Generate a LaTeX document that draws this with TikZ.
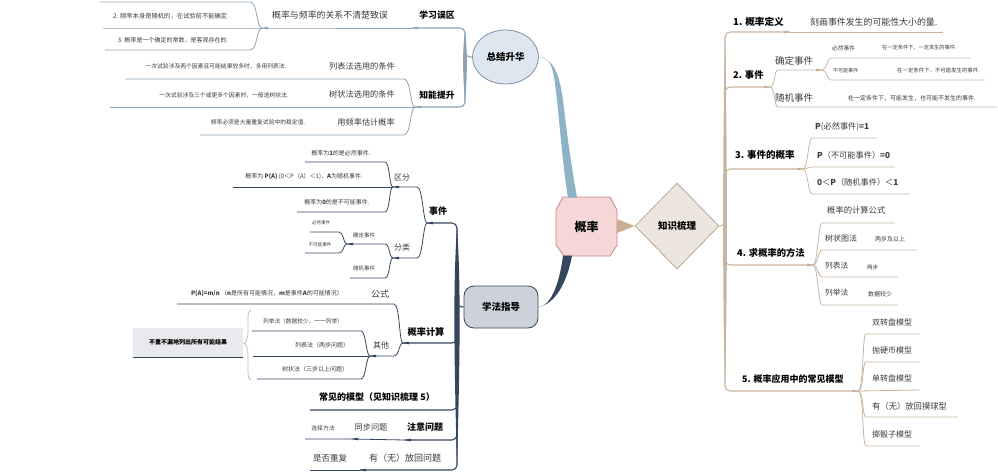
\documentclass[tikz,border=0pt]{standalone}
\usepackage{fontspec}
\setmainfont{Noto Sans CJK SC}
\usetikzlibrary{shapes.geometric}
\newcommand\fsz[1]{\fontsize{#1}{#1}\selectfont}
\definecolor{cblue}{HTML}{8CA3B5}
\definecolor{cribb}{HTML}{8DB3C7}
\definecolor{cell}{HTML}{DEE7EF}
\definecolor{celld}{HTML}{7A91A6}
\definecolor{cnavy}{HTML}{34465F}
\definecolor{cxf}{HTML}{CDD2DA}
\definecolor{ctan}{HTML}{C9B59F}
\definecolor{ctanw}{HTML}{C8AE92}
\definecolor{cpink}{HTML}{F5D7D7}
\definecolor{cpinkd}{HTML}{C38787}
\definecolor{cdia}{HTML}{EDE6DE}
\definecolor{cdiad}{HTML}{B6A898}
\definecolor{cbox}{HTML}{E8EAED}
\definecolor{cbrace}{HTML}{BFBFBF}
\definecolor{ctxt}{HTML}{3A3A3A}
\begin{document}
\begin{tikzpicture}[x=1pt,y=-1pt,
  tx/.style={inner sep=0pt, text=ctxt, font=\fsz{#1}},
  bt/.style={inner sep=0pt, text=black, font=\fsz{#1}\bfseries},
  ublue/.style={draw=cblue, line width=0.8pt},
  unavy/.style={draw=cnavy, line width=0.8pt},
  utan/.style={draw=ctan, line width=0.8pt},
  thickone/.style={line width=1.1pt},
  lknot/.style={insert path={+(-1,0) -- +(6,-1.3) -- +(6,1.3) -- cycle}},
  rknot/.style={insert path={+(1,0) -- +(-6,-1.3) -- +(-6,1.3) -- cycle}}]
\useasboundingbox (0,0) rectangle (998,474);

% ---------- central nodes ----------
\filldraw[fill=cpink, draw=cpinkd, line width=0.8pt] (563,197) -- (610,197) -- (617,210) -- (617,245) -- (610,256) -- (564,256) -- (556,245) -- (556,210) -- cycle;
\node[bt=12, minimum width=61pt, minimum height=59pt] (gl) at (586.5,226.5) {概率};
\node[diamond, draw=cdiad, fill=cdia, line width=0.8pt, minimum width=84pt, minimum height=86pt, inner sep=0pt, font=\fsz{9.5}\bfseries] (zs) at (677,226) {知识梳理};
\node[ellipse, draw=celld, fill=cell, line width=0.8pt, minimum width=66pt, minimum height=54pt, inner sep=0pt, font=\fsz{9.5}\bfseries] (zj) at (505.5,57) {总结升华};
\node[draw=cnavy, fill=cxf, line width=0.8pt, rounded corners=10pt, minimum width=74pt, minimum height=42pt, inner sep=0pt, font=\fsz{9.5}\bfseries] (xf) at (501,307) {学法指导};

% ribbons
\fill[cribb] (zj.east) .. controls (553,56.5) and (554,75) .. (557,100) .. controls (561,140) and (564,175) .. (568,197.5) -- (577,197.5) .. controls (572,170) and (567,135) .. (563,100) .. controls (559,72) and (553,59) .. (zj.east) -- cycle;
\fill[cnavy] (xf.east) .. controls (552,306) and (560,280) .. (563,255.5) -- (572,255.5) .. controls (567,283) and (555,304) .. (xf.east) -- cycle;
\fill[ctanw] (617,219) .. controls (626,223) .. (zs.west) .. controls (626,229) .. (617,233) -- cycle;

% ---------- top-left ----------
\node[tx=6.3] (a1) at (171,16) {2. 频率本身是随机的，在试验前不能确定.};
\node[tx=6] (a2) at (173,40) {3. 概率是一个确定的常数，是客观存在的.};
\node[tx=8.9] (a3) at (330,15) {概率与频率的关系不清楚致误};
\node[bt=8.8] (a4) at (437,15) {学习误区};
\node[tx=8.2,anchor=east] (b1) at (395,66) {列表法选用的条件};
\node[tx=5.8] (b1c) at (216,66) {一次试验涉及两个因素且可能结果较多时，多用列表法.};
\node[tx=8.2,anchor=east] (b2) at (395,94) {树状法选用的条件};
\node[tx=5.8] (b2c) at (224,95) {一次试验涉及三个或更多个因素时，一般选树状法.};
\node[tx=8.2,anchor=east] (b3) at (395,122) {用频率估计概率};
\node[tx=5.8] (b3c) at (258,122) {频率必须是大量重复试验中的稳定值.};
\node[bt=8.8] (b4) at (437,95) {知能提升};

\coordinate (Fa) at (262,28);
\coordinate (Fb) at (412,28);
\coordinate (Fc) at (415,107);
\draw[ublue] (100,2) -- (250,2) .. controls +(8,0) and +(-6,0) .. (Fa);
\draw[ublue] (103,28) -- (Fa) -- (Fb);
\draw[ublue] (105,50) -- (250,50) .. controls +(8,0) and +(-6,0) .. (Fa);
\draw[ublue] (125,79) -- (404,79) .. controls +(7,0) and +(-5,0) .. (Fc);
\draw[ublue] (110,107) -- (Fc);
\draw[ublue] (200,135) -- (404,135) .. controls +(7,0) and +(-5,0) .. (Fc);
\draw[ublue, thickone, rounded corners=5pt] (Fb) -- (465,28) -- (465,57) -- (zj.west);
\draw[ublue, thickone, rounded corners=5pt] (Fc) -- (465,107) -- (465,57);
\fill[cblue] (465,31) .. controls (467.5,50) and (467.5,70) .. (465,104) .. controls (462.5,70) and (462.5,50) .. (465,31) -- cycle;
\fill[cblue] (Fa) [lknot];
\fill[cblue] (Fb) [lknot];
\fill[cblue] (Fc) [lknot];

% ---------- bottom-left ----------
\node[bt=9] (c1) at (438,211) {事件};
\node[tx=8] (c2) at (402,178) {区分};
\node[tx=6] (c3) at (341,153) {概率为\textbf{1}的是必然事件.};
\node[tx=6] (c4) at (304,177) {概率为 \textbf{P(A)} (0＜P（A）＜1)，\textbf{A}为随机事件.};
\node[tx=6] (c5) at (337,202) {概率为\textbf{0}的是不可能事件.};
\node[tx=8] (c6) at (402,247) {分类};
\node[tx=5.5] (c7) at (364,235) {确定事件};
\node[tx=4.5] (c8) at (321,223) {必然事件};
\node[tx=4.6] (c9) at (320,245) {不可能事件};
\node[tx=5.5] (c10) at (364,268) {随机事件};
\node[bt=9.2] (d1) at (426,332) {概率计算};
\node[tx=9] (d2) at (380,294) {公式};
\node[tx=6] (d3) at (267,294) {\textbf{P(A)=m/n} （\textbf{n}是所有可能情况，\textbf{m}是事件\textbf{A}的可能情况）};
\node[tx=8] (d4) at (381,345) {其他};
\node[tx=5.7] (d5) at (303,321) {列举法（数据较少，一一列举）};
\node[tx=6] (d6) at (322,345) {列表法（两步问题）};
\node[tx=6] (d7) at (315,369) {树状法（三步以上问题）};
\node[bt=6, fill=cbox, minimum width=110pt, minimum height=29pt] (d8) at (188,342.5) {不重不漏地列出所有可能结果};
\draw[cnavy, line width=1pt] (d8.south west) -- (d8.south east);
\draw[cbrace, line width=0.8pt] (251,310) .. controls (247,311) and (248,318) .. (248,330) .. controls (248,340) and (246,343) .. (244,343.5) .. controls (246,344) and (248,347) .. (248,357) .. controls (248,370) and (247,379) .. (251,380);
\node[bt=9] (e1) at (377,397) {常见的模型（见知识梳理 5）};
\node[bt=9] (e2) at (425,427) {注意问题};
\node[tx=8.2] (e3) at (371,427) {同步问题};
\node[tx=5.8] (e4) at (323,428) {选择方法};
\node[tx=9] (e5) at (405,458) {有（无）放回问题};
\node[tx=8.5] (e6) at (330,458) {是否重复};

\coordinate (Fd) at (427,223);
\coordinate (Fe) at (393,187);
\coordinate (Ff) at (393,258);
\coordinate (Fg) at (347,244);
\coordinate (Fh) at (403,343);
\coordinate (Fi) at (370,356);
\coordinate (Fj) at (405,440);
\coordinate (Fk) at (352,439);
\coordinate (Fl) at (360,470);
\draw[unavy] (305,162) -- (385,162) .. controls +(5,0) and +(-4,0) .. (Fe);
\draw[unavy] (233,187) -- (Fe);
\draw[unavy] (297,212) -- (385,212) .. controls +(5,0) and +(-4,0) .. (Fe);
\draw[unavy] (Fe) -- (417,187) .. controls +(6,0) and +(-4,0) .. (Fd);
\draw[unavy] (Ff) -- (417,258) .. controls +(6,0) and +(-4,0) .. (Fd);
\draw[unavy] (Fg) -- (385,244) .. controls +(5,0) and +(-4,0) .. (Ff);
\draw[unavy] (350,278) -- (385,278) .. controls +(5,0) and +(-4,0) .. (Ff);
\draw[unavy] (310,232) -- (339,232) .. controls +(5,0) and +(-4,0) .. (Fg);
\draw[unavy] (305,253) -- (339,253) .. controls +(5,0) and +(-4,0) .. (Fg);
\draw[unavy] (177,304) -- (394,304) .. controls +(6,0) and +(-4,0) .. (Fh);
\draw[unavy] (Fi) -- (394,356) .. controls +(5,0) and +(-4,0) .. (Fh);
\draw[unavy] (252,331) -- (361,331) .. controls +(5,0) and +(-4,0) .. (Fi);
\draw[unavy] (253,356) -- (Fi);
\draw[unavy] (257,379) -- (361,379) .. controls +(5,0) and +(-4,0) .. (Fi);
\draw[unavy] (305,439) -- (Fk) -- (Fj);
\draw[unavy] (310,470) -- (Fl);
\foreach \k in {Fd,Fe,Ff,Fg,Fh,Fi,Fj,Fk,Fl} \fill[cnavy] (\k) [lknot];
\draw[unavy, thickone, rounded corners=5pt] (Fd) -- (457,223) -- (457,307) -- (xf.west);
\draw[unavy, thickone, rounded corners=5pt] (Fh) -- (457,343) -- (457,307);
\draw[unavy, thickone, rounded corners=5pt] (310,410) -- (457,410) -- (457,307);
\draw[unavy, thickone, rounded corners=5pt] (Fj) -- (457,440) -- (457,307);
\draw[unavy, thickone, rounded corners=5pt] (Fl) -- (457,470) -- (457,307);
\fill[cnavy] (457,226) .. controls (460.5,280) and (460.5,340) .. (457,466) .. controls (453.5,340) and (453.5,280) .. (457,226) -- cycle;

% ---------- right ----------
\node[bt=9.6,anchor=west] (r1) at (733,22) {1. 概率定义};
\node[tx=8.9,anchor=west] (r1c) at (810,22) {刻画事件发生的可能性大小的量.};
\node[bt=9.3,anchor=west] (r2) at (733,75) {2. 事件};
\node[tx=9.5,anchor=west] (r2a) at (775,61) {确定事件};
\node[tx=5.7,anchor=west] (r2a1) at (832,48) {必然事件};
\node[tx=5.2,anchor=west] (r2a1c) at (882,48) {在一定条件下，一定发生的事件.};
\node[tx=5,anchor=west] (r2a2) at (833,71) {不可能事件};
\node[tx=5.4,anchor=west] (r2a2c) at (897,71) {在一定条件下，不可能发生的事件.};
\node[tx=9.5,anchor=west] (r2b) at (775,98) {随机事件};
\node[tx=6,anchor=west] (r2bc) at (848,98) {在一定条件下，可能发生，也可能不发生的事件.};
\node[bt=9.5,anchor=west] (r3) at (735,155) {3. 事件的概率};
\node[tx=8.2,anchor=west] (r3a) at (815,127) {\textbf{P}(必然事件)\textbf{=1}};
\node[tx=8.2,anchor=west] (r3b) at (817,155) {\textbf{P}（不可能事件）\textbf{=0}};
\node[tx=8.2,anchor=west] (r3c) at (817,182) {\textbf{0}＜\textbf{P}（随机事件）＜\textbf{1}};
\node[bt=9.3,anchor=west] (r4) at (737,253) {4. 求概率的方法};
\node[tx=8.3,anchor=west] (r4a) at (827,210) {概率的计算公式};
\node[tx=8,anchor=west] (r4b) at (825,238) {树状图法};
\node[tx=6,anchor=west] (r4bc) at (875,239) {两步及以上};
\node[tx=7.7,anchor=west] (r4c) at (825,266) {列表法};
\node[tx=5.5,anchor=west] (r4cc) at (867,267) {两步};
\node[tx=7.7,anchor=west] (r4d) at (825,293) {列举法};
\node[tx=6,anchor=west] (r4dc) at (868,294) {数据较少};
\node[bt=9,anchor=west] (r5) at (742,379) {5. 概率应用中的常见模型};
\node[tx=8,anchor=west] (r5a) at (872,322) {双转盘模型};
\node[tx=8,anchor=west] (r5b) at (872,350) {抛硬币模型};
\node[tx=8,anchor=west] (r5c) at (872,378) {单转盘模型};
\node[tx=8.3,anchor=west] (r5d) at (872,406) {有（无）放回摸球型};
\node[tx=8,anchor=west] (r5e) at (872,434) {掷骰子模型};

\coordinate (FR1) at (790,32);
\coordinate (FR2) at (770,87);
\coordinate (FR2a) at (822,70);
\coordinate (FR3) at (803,169);
\coordinate (FR4) at (813,265);
\coordinate (FR5) at (858,391);
\draw[utan, thickone, rounded corners=5pt] (zs.east) -- (725,226) -- (725,32) -- (FR1);
\draw[utan] (FR1) -- (943,32);
\draw[utan, thickone, rounded corners=5pt] (725,226) -- (725,87) -- (FR2);
\draw[utan, thickone, rounded corners=5pt] (725,226) -- (725,169) -- (FR3);
\draw[utan, thickone, rounded corners=5pt] (725,226) -- (725,265) -- (FR4);
\draw[utan, thickone, rounded corners=5pt] (725,226) -- (725,391) -- (FR5);
\fill[ctan] (725,35) .. controls (727.5,150) and (727.5,300) .. (725,385) .. controls (722.5,300) and (722.5,150) .. (725,35) -- cycle;
\draw[utan] (FR2) .. controls +(5,0) and +(-4,0) .. (778,70) -- (FR2a);
\draw[utan] (FR2) .. controls +(5,0) and +(-4,0) .. (778,107) -- (997,107);
\draw[utan] (FR2a) .. controls +(5,0) and +(-4,0) .. (831,58) -- (970,58);
\draw[utan] (FR2a) .. controls +(5,0) and +(-4,0) .. (831,80) -- (985,80);
\draw[utan] (FR3) .. controls +(5,0) and +(-4,0) .. (812,138) -- (877,138);
\draw[utan] (FR3) .. controls +(5,0) and +(-4,0) .. (812,167) -- (895,167);
\draw[utan] (FR3) .. controls +(5,0) and +(-4,0) .. (812,194) -- (910,194);
\draw[utan] (FR4) .. controls +(5,0) and +(-4,0) .. (822,223) -- (895,223);
\draw[utan] (FR4) .. controls +(5,0) and +(-4,0) .. (822,250) -- (917,250);
\draw[utan] (FR4) .. controls +(5,0) and +(-4,0) .. (822,277) -- (898,277);
\draw[utan] (FR4) .. controls +(5,0) and +(-4,0) .. (822,305) -- (898,305);
\draw[utan] (FR5) .. controls +(6,0) and +(-4,0) .. (866,334) -- (920,334);
\draw[utan] (FR5) .. controls +(6,0) and +(-4,0) .. (866,362) -- (920,362);
\draw[utan] (FR5) -- (920,390);
\draw[utan] (FR5) .. controls +(6,0) and +(-4,0) .. (866,417) -- (958,417);
\draw[utan] (FR5) .. controls +(6,0) and +(-4,0) .. (866,446) -- (920,446);
\foreach \k in {FR1,FR2,FR2a,FR3,FR4,FR5} \fill[ctanw] (\k) [rknot];
\end{tikzpicture}
\end{document}
